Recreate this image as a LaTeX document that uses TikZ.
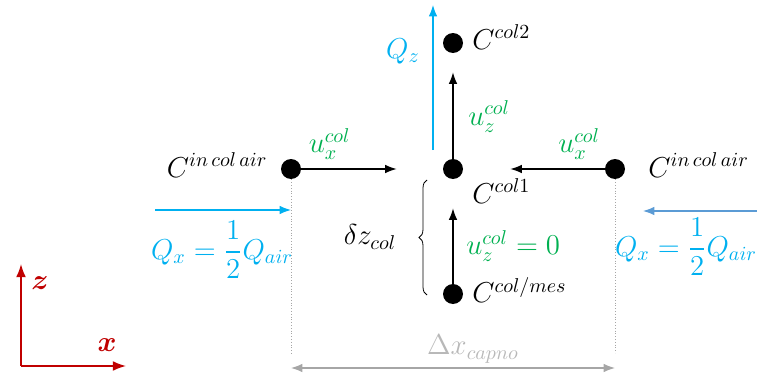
\documentclass[tikz,border=0pt]{standalone}
\usepackage{amsmath}
\usepackage{amssymb}
\usetikzlibrary{arrows.meta, positioning, calc, decorations.pathreplacing}
\definecolor{qblue}{HTML}{00B0F0}
\definecolor{qsteel}{HTML}{5B9BD5}
\definecolor{ugreen}{HTML}{00B050}
\definecolor{axred}{HTML}{C00000}
\definecolor{dimgray}{HTML}{A6A6A6}

\begin{document}
\begin{tikzpicture}[x=0.5pt, y=-0.5pt, >=Latex, font=\fontsize{14.5}{17}\selectfont,
  dot/.style={circle, fill=black, minimum size=10pt, inner sep=0pt},
  vel/.style={->, semithick},
  flow/.style={->, semithick, qblue},
  guide/.style={dimgray, densely dotted, thin}]
\useasboundingbox (0,0) rectangle (757,375);
% concentration points
\node[dot] (inl) at (291,169) {};
\node[dot] (col1) at (453,169) {};
\node[dot] (inr) at (615,169) {};
\node[dot] (col2) at (453,43) {};
\node[dot] (mes) at (453,294) {};
\node[left=3pt of inl, yshift=2pt] (linl) {$C^{in\,col\,air}$};
\node[right=8pt of inr, yshift=2pt] (linr) {$C^{in\,col\,air}$};
\node[right=1pt of col2, yshift=3pt] (lcol2) {$C^{col2}$};
\node[right=1pt of col1, yshift=-11pt] (lcol1) {$C^{col1}$};
\node[right=1pt of mes, yshift=2pt] (lmes) {$C^{col/mes}$};
% velocities
\draw[vel, shorten >=23pt] (inl) -- node[above=1pt, pos=0.2, ugreen] {$u_x^{col}$} (col1);
\draw[vel, shorten >=23.5pt] (inr) -- node[above=1pt, pos=0.18, ugreen] {$u_x^{col}$} (col1);
\draw[vel, shorten >=9.5pt] (col1) -- node[right=4pt, pos=0.4, ugreen] {$u_z^{col}$} (col2);
\draw[vel, shorten >=14.5pt] (mes) -- node[right=3pt, pos=0.36, ugreen] {$u_z^{col} = 0$} (col1);
% flows
\coordinate (qzs) at (433,150);
\coordinate (qze) at (433,5);
\draw[flow] (qzs) -- node[left=3pt, pos=0.68] {$Q_z$} (qze);
\coordinate (qxl) at (155,210);
\coordinate (qxle) at (291,210);
\draw[flow] (qxl) -- (qxle);
\node[qblue] (lqxl) at (222,250) {$Q_x = \dfrac{1}{2}Q_{air}$};
\coordinate (qxr) at (760,211);
\coordinate (qxre) at (643,211);
\draw[flow, qsteel] (qxr) -- (qxre);
\node[qblue] (lqxr) at (686,247) {$Q_x = \dfrac{1}{2}Q_{air}$};
% distance between inlets
\coordinate (dl) at (291,355);
\coordinate (dr) at (615,353);
\draw[guide] (inl) -- (dl);
\draw[guide] (inr) -- (dr);
\coordinate (al) at (291,368);
\coordinate (ar) at (615,368);
\draw[<->, dimgray, semithick] (al) -- (ar);
\node[dimgray!80] (ldx) at (473,349) {$\Delta x_{capno}$};
% height of column cell
\coordinate (bb) at (427,295);
\coordinate (bt) at (427,180);
\draw[decorate, decoration={brace, amplitude=4pt}, thin] (bb) -- (bt);
\node (ldz) at (370,237) {$\delta z_{col}$};
% axes
\coordinate (o) at (21,366);
\coordinate (oz) at (21,264);
\coordinate (ox) at (126,366);
\draw[->, axred, thick] (o) -- (oz);
\draw[->, axred, thick] (o) -- (ox);
\node[axred] (lz) at (40,283) {$\boldsymbol{z}$};
\node[axred] (lx) at (107,345) {$\boldsymbol{x}$};
\end{tikzpicture}
\end{document}
